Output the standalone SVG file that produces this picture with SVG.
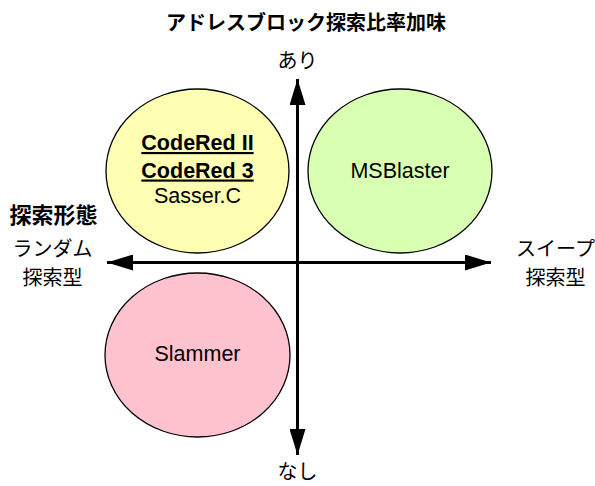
<svg xmlns="http://www.w3.org/2000/svg" width="595" height="486" viewBox="0 0 595 486">
<style>
.jp{font-family:"Noto Sans CJK JP","Liberation Sans",sans-serif;font-size:20px;fill:#000;text-anchor:middle}
.jpb{font-family:"Noto Sans CJK JP","Liberation Sans",sans-serif;font-weight:bold;fill:#000;text-anchor:middle}
.en{font-family:"Liberation Sans",Arial,sans-serif;font-size:21.5px;fill:#000;text-anchor:middle}
.enb{font-family:"Liberation Sans",Arial,sans-serif;font-size:21.5px;font-weight:bold;text-decoration:underline;fill:#000;text-anchor:middle}
.node{stroke:#000;stroke-width:1.3}
.axis{stroke:#000;stroke-width:3;fill:none}
</style>
<defs>
<marker id="ah" viewBox="0 0 26 16" refX="26" refY="8" markerWidth="26" markerHeight="16" markerUnits="userSpaceOnUse" orient="auto">
<path d="M0,0 L26,8 L0,16 Z" fill="#000"/>
</marker>
</defs>
<rect width="595" height="486" fill="#fff"/>
<text class="jpb" x="306" y="30" font-size="20">アドレスブロック探索比率加味</text>
<g id="node-codered">
<ellipse class="node" cx="197.5" cy="171" rx="91.5" ry="82" fill="#FFFFB3"/>
<text class="enb" x="197.5" y="150">CodeRed II</text>
<text class="enb" x="197.5" y="177.5">CodeRed 3</text>
<text class="en" x="197.5" y="203">Sasser.C</text>
</g>
<g id="node-msblaster">
<ellipse class="node" cx="400" cy="171" rx="92" ry="82" fill="#D9FFB3"/>
<text class="en" x="400" y="178">MSBlaster</text>
</g>
<g id="node-slammer">
<ellipse class="node" cx="197.5" cy="355" rx="92.5" ry="82" fill="#FFC2CE"/>
<text class="en" x="197.5" y="361">Slammer</text>
</g>
<g id="connectors">
<line class="axis" x1="297.5" y1="263" x2="297.5" y2="79" marker-end="url(#ah)"/>
<line class="axis" x1="297.5" y1="263" x2="297.5" y2="455" marker-end="url(#ah)"/>
<line class="axis" x1="297.5" y1="262.5" x2="107" y2="262.5" marker-end="url(#ah)"/>
<line class="axis" x1="297.5" y1="262.5" x2="491" y2="262.5" marker-end="url(#ah)"/>
</g>
<g id="labels">
<text class="jp" x="297.5" y="68">あり</text>
<text class="jp" x="297.5" y="479">なし</text>
<text class="jpb" x="53.5" y="223" font-size="22">探索形態</text>
<text class="jp" x="52.5" y="256">ランダム</text>
<text class="jp" x="52.5" y="285">探索型</text>
<text class="jp" x="555.5" y="256">スイープ</text>
<text class="jp" x="555.5" y="285">探索型</text>
</g>
</svg>
